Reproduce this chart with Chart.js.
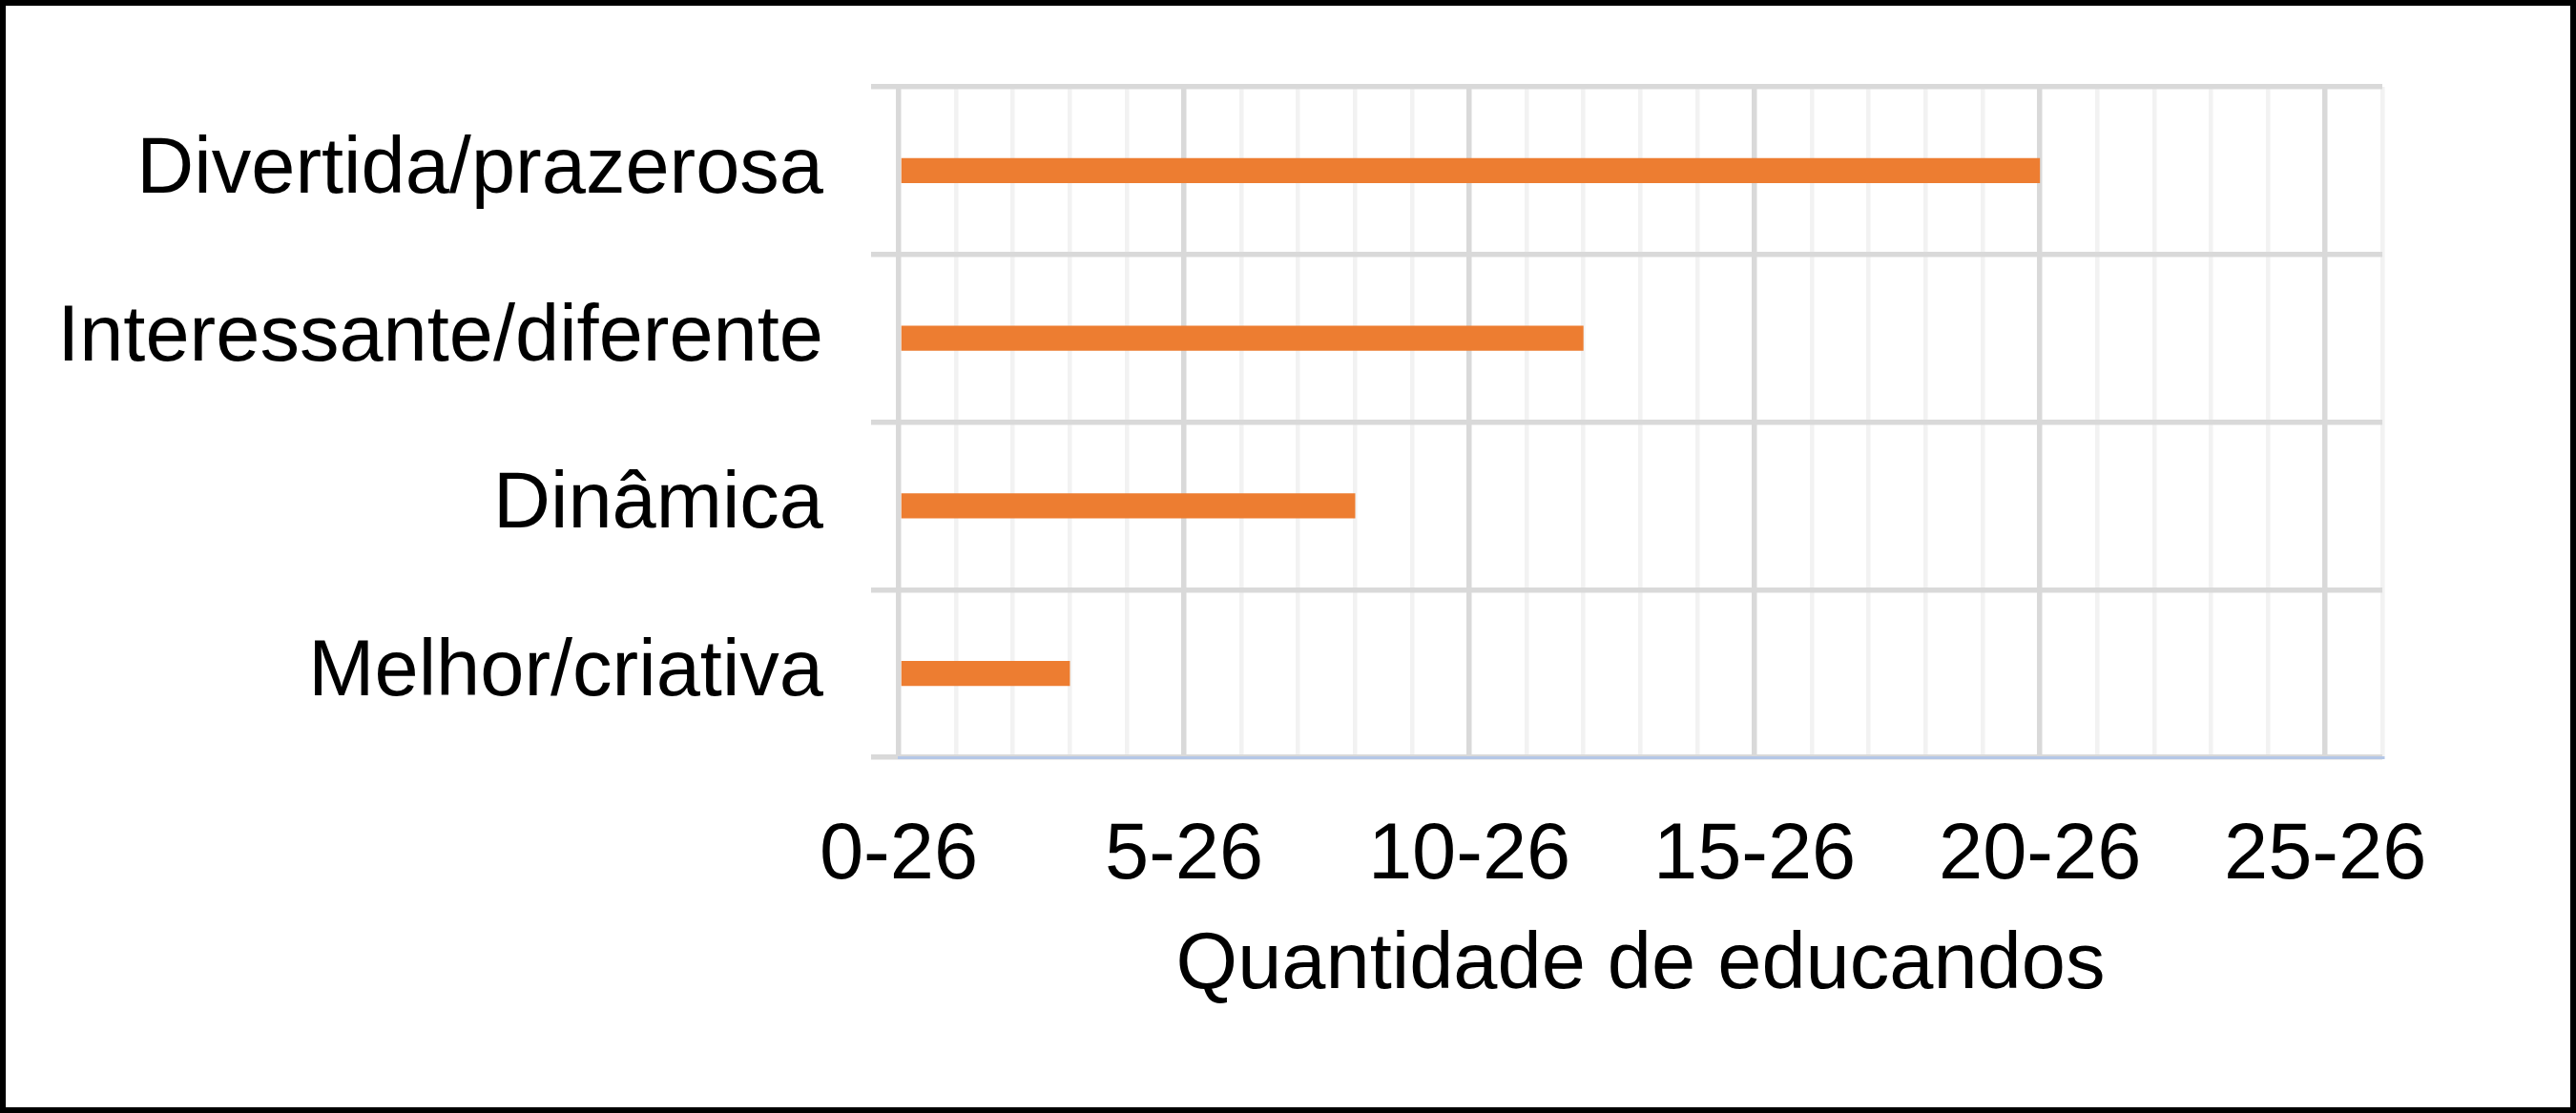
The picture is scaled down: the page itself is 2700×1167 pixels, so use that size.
<!DOCTYPE html>
<html>
<head>
<meta charset="utf-8">
<script src="https://cdn.jsdelivr.net/npm/chart.js@4.4.1/dist/chart.umd.min.js"></script>
<style>
html,body{margin:0;padding:0;background:#fff;}
#wrap{width:2700px;height:1167px;position:relative;}
canvas{display:block;}
</style>
</head>
<body>
<div id="wrap"><canvas id="c" width="2700" height="1167"></canvas></div>
<script>
const categories = ['Divertida/prazerosa', 'Interessante/diferente', 'Dinâmica', 'Melhor/criativa'];
const values = [20, 12, 8, 3];
const tickLabels = ['0-26', '5-26', '10-26', '15-26', '20-26', '25-26'];
const axisTitle = 'Quantidade de educandos';
const xMin = 0, xMax = 26;

const FONT = '"Liberation Sans", Arial, Helvetica, sans-serif';
const FS = 83;

const framePlugin = {
  id: 'frame',
  beforeDraw(chart) {
    const ctx = chart.ctx;
    ctx.save();
    ctx.fillStyle = '#ffffff';
    ctx.fillRect(0, 0, chart.width, chart.height);
    ctx.restore();
  },
  afterDraw(chart) {
    const ctx = chart.ctx;
    ctx.save();
    ctx.strokeStyle = '#000000';
    ctx.lineWidth = 6;
    ctx.strokeRect(3, 3, chart.width - 6, chart.height - 6);
    ctx.restore();
  }
};

new Chart(document.getElementById('c'), {
  type: 'bar',
  data: {
    labels: categories,
    datasets: [{
      data: values,
      backgroundColor: '#ED7D31',
      borderWidth: 0,
      barPercentage: 0.15,
      categoryPercentage: 1.0
    }]
  },
  plugins: [framePlugin],
  options: {
    indexAxis: 'y',
    responsive: false,
    devicePixelRatio: 1,
    animation: false,
    layout: { padding: { left: 0, top: 91, right: 203, bottom: 0 } },
    plugins: { legend: { display: false }, tooltip: { enabled: false } },
    scales: {
      x: {
        type: 'linear',
        min: xMin,
        max: xMax,
        afterFit(scale) { scale.height = 373; scale.paddingLeft = 0; scale.paddingRight = 0; },
        border: { display: true, color: '#B4C7E7', width: 3 },
        grid: {
          drawTicks: false,
          color: (c) => (c.tick && c.tick.value % 5 === 0) ? '#D9D9D9' : '#F2F2F2',
          lineWidth: (c) => (c.tick && c.tick.value % 5 === 0) ? 5.5 : 4.5
        },
        ticks: {
          stepSize: 1,
          autoSkip: false,
          maxRotation: 0,
          padding: 54,
          color: '#000000',
          font: { family: FONT, size: FS },
          callback: (v) => (v % 5 === 0) ? tickLabels[v / 5] : ''
        },
        title: {
          display: true,
          text: axisTitle,
          color: '#000000',
          font: { family: FONT, size: FS },
          padding: { top: 0, bottom: 104 }
        }
      },
      y: {
        afterFit(scale) { scale.width = 942; scale.paddingTop = 0; scale.paddingBottom = 0; },
        border: { display: false },
        grid: {
          offset: true,
          drawTicks: true,
          tickLength: 29,
          color: (c) => (c.index === categories.length) ? 'rgba(0,0,0,0)' : '#D9D9D9',
          tickColor: '#D9D9D9',
          lineWidth: 5.5,
          tickWidth: 5.5
        },
        ticks: {
          padding: 50,
          color: '#000000',
          font: { family: FONT, size: FS }
        }
      }
    }
  }
});
</script>
</body>
</html>
